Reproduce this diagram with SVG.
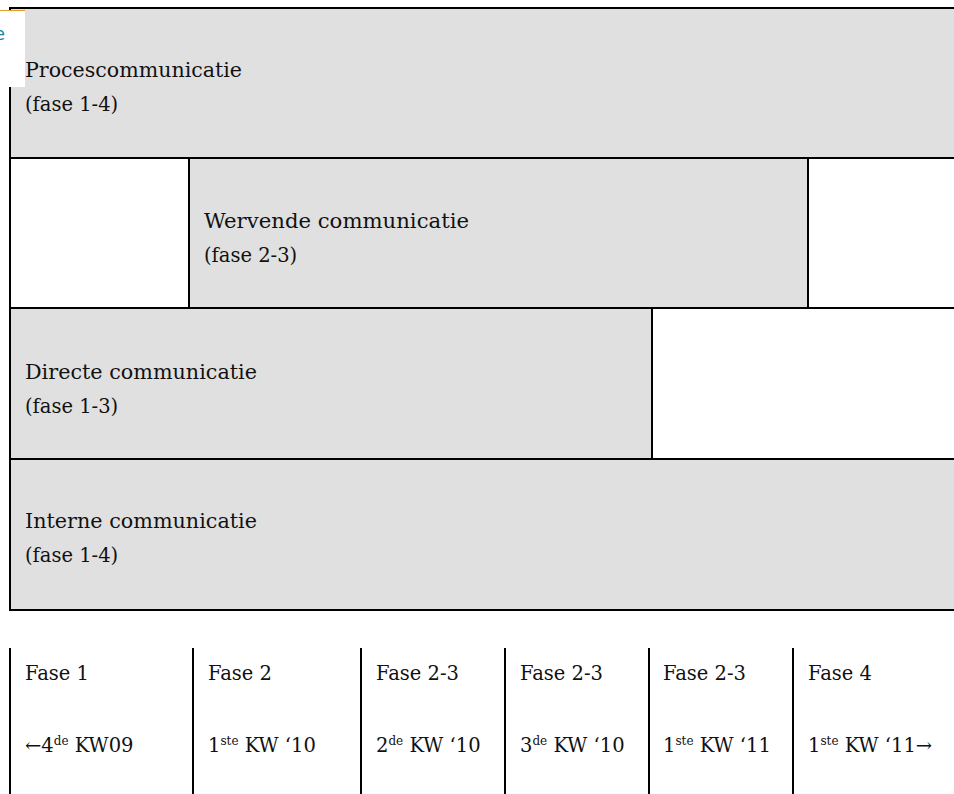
<svg xmlns="http://www.w3.org/2000/svg" width="954" height="794" viewBox="0 0 954 794">
<style>
.t{font-family:"DejaVu Serif","Liberation Serif",serif;font-size:19.5px;fill:#111}
.sup{font-size:12px}
.g{fill:#e0e0e0}
.ln{stroke:#000;stroke-width:2;fill:none}
</style>
<rect x="0" y="0" width="954" height="794" fill="#fff"/>
<g id="procescommunicatie">
<rect class="g" x="10" y="8" width="944" height="150"/>
<text class="t" x="25" y="77" textLength="217" lengthAdjust="spacingAndGlyphs">Procescommunicatie</text>
<text class="t" x="25" y="111">(fase 1-4)</text>
</g>
<g id="wervende-communicatie">
<rect class="g" x="189" y="158" width="619" height="150"/>
<text class="t" x="204" y="228" textLength="265" lengthAdjust="spacingAndGlyphs">Wervende communicatie</text>
<text class="t" x="204" y="262">(fase 2-3)</text>
</g>
<g id="directe-communicatie">
<rect class="g" x="10" y="308" width="642" height="151"/>
<text class="t" x="25" y="379" textLength="232" lengthAdjust="spacingAndGlyphs">Directe communicatie</text>
<text class="t" x="25" y="413">(fase 1-3)</text>
</g>
<g id="interne-communicatie">
<rect class="g" x="10" y="459" width="944" height="151"/>
<text class="t" x="25" y="528" textLength="232" lengthAdjust="spacingAndGlyphs">Interne communicatie</text>
<text class="t" x="25" y="562">(fase 1-4)</text>
</g>
<g id="connectors">
<path class="ln" d="M9 8H954M10 8V611M10 158H954M10 308H954M10 459H954M9 610H954M189 158V308M808 158V308M652 308V459"/>
<path class="ln" d="M10 648V794M193 648V794M361 648V794M505 648V794M649 648V794M793 648V794"/>
</g>
<g id="timeline">
<text class="t" x="25" y="680">Fase 1</text>
<text class="t" x="208" y="680">Fase 2</text>
<text class="t" x="376" y="680">Fase 2-3</text>
<text class="t" x="520" y="680">Fase 2-3</text>
<text class="t" x="663" y="680">Fase 2-3</text>
<text class="t" x="808" y="680">Fase 4</text>
<text class="t" x="25" y="752">←4<tspan class="sup" dy="-7">de</tspan><tspan dy="7"> KW09</tspan></text>
<text class="t" x="208" y="752">1<tspan class="sup" dy="-7">ste</tspan><tspan dy="7"> KW ‘10</tspan></text>
<text class="t" x="376" y="752">2<tspan class="sup" dy="-7">de</tspan><tspan dy="7"> KW ‘10</tspan></text>
<text class="t" x="520" y="752">3<tspan class="sup" dy="-7">de</tspan><tspan dy="7"> KW ‘10</tspan></text>
<text class="t" x="663" y="752">1<tspan class="sup" dy="-7">ste</tspan><tspan dy="7"> KW ‘11</tspan></text>
<text class="t" x="808" y="752">1<tspan class="sup" dy="-7">ste</tspan><tspan dy="7"> KW ‘11→</tspan></text>
</g>
<g id="corner-fragment">
<rect x="0" y="10" width="25" height="77" fill="#fff"/>
<line x1="0" y1="10.5" x2="25" y2="10.5" stroke="#e0a030" stroke-width="1"/>
<text x="-6" y="40" font-family="DejaVu Sans,sans-serif" font-size="18" fill="#1f7fa6">e</text>
</g>
</svg>
